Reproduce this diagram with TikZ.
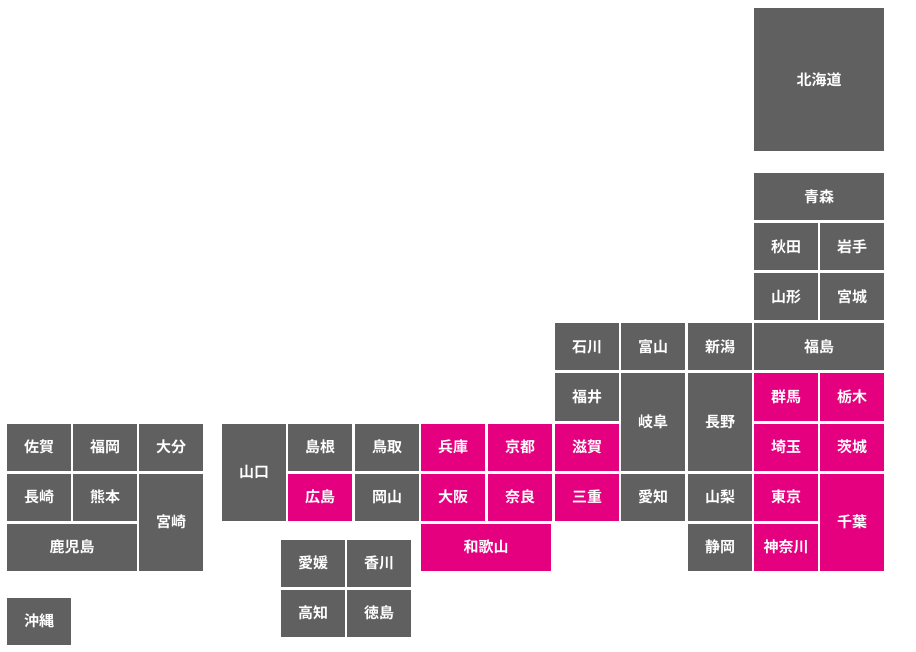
\documentclass[tikz,border=0pt]{standalone}
\usepackage{fontspec}
\newfontfamily\jpfont{Noto Sans CJK JP Bold}
\definecolor{tilegray}{HTML}{606060}
\definecolor{tilepink}{HTML}{E4007F}
\tikzset{
  tile/.style={fill=tilegray, text=white, inner sep=0pt, minimum width=64pt, minimum height=47pt, font=\jpfont\fontsize{15}{15}\selectfont},
  hit/.style={tile, fill=tilepink},
  wide/.style={minimum width=130pt},
  tall/.style={minimum height=97pt}
}
\begin{document}
\begin{tikzpicture}[x=1pt,y=-1pt]
    \useasboundingbox (0,0) rectangle (916,652);
    % Hokkaido / Tohoku
    \node[tile, wide, minimum height=143pt] (Hokkaido) at (819,80) {北海道};
    \node[tile, wide] (Aomori) at (819,197) {青森};
    \node[tile] (Akita) at (786,247) {秋田};
    \node[tile] (Iwate) at (852,247) {岩手};
    \node[tile] (Yamagata) at (786,297) {山形};
    \node[tile] (Miyagi) at (852,297) {宮城};
    \node[tile, wide] (Fukushima) at (819,347) {福島};
    % Chubu
    \node[tile] (Ishikawa) at (587,347) {石川};
    \node[tile] (Toyama) at (653,347) {富山};
    \node[tile] (Niigata) at (720,347) {新潟};
    \node[tile] (Fukui) at (587,397) {福井};
    \node[tile, tall] (Gifu) at (653,422) {岐阜};
    \node[tile, tall] (Nagano) at (720,422) {長野};
    \node[tile] (Aichi) at (653,497) {愛知};
    \node[tile] (Yamanashi) at (720,497) {山梨};
    \node[tile] (Shizuoka) at (720,547) {静岡};
    % Kanto
    \node[hit] (Gunma) at (786,397) {群馬};
    \node[hit] (Tochigi) at (852,397) {栃木};
    \node[hit] (Saitama) at (786,447) {埼玉};
    \node[hit] (Ibaraki) at (852,447) {茨城};
    \node[hit] (Tokyo) at (786,497) {東京};
    \node[hit, tall] (Chiba) at (852,522) {千葉};
    \node[hit] (Kanagawa) at (786,547) {神奈川};
    % Kinki
    \node[hit] (Hyogo) at (453,447) {兵庫};
    \node[hit] (Kyoto) at (520,447) {京都};
    \node[hit] (Shiga) at (587,447) {滋賀};
    \node[hit] (Osaka) at (453,497) {大阪};
    \node[hit] (Nara) at (520,497) {奈良};
    \node[hit] (Mie) at (587,497) {三重};
    \node[hit, wide] (Wakayama) at (486,547) {和歌山};
    % Chugoku
    \node[tile, tall] (Yamaguchi) at (254,472) {山口};
    \node[tile] (Shimane) at (320,447) {島根};
    \node[tile] (Tottori) at (387,447) {鳥取};
    \node[hit] (Hiroshima) at (320,497) {広島};
    \node[tile] (Okayama) at (387,497) {岡山};
    % Shikoku
    \node[tile] (Ehime) at (313,563) {愛媛};
    \node[tile] (Kagawa) at (379,563) {香川};
    \node[tile] (Kochi) at (313,613) {高知};
    \node[tile] (Tokushima) at (379,613) {徳島};
    % Kyushu / Okinawa
    \node[tile] (Saga) at (39,447) {佐賀};
    \node[tile] (Fukuoka) at (105,447) {福岡};
    \node[tile] (Oita) at (171,447) {大分};
    \node[tile] (Nagasaki) at (39,497) {長崎};
    \node[tile] (Kumamoto) at (105,497) {熊本};
    \node[tile, tall] (Miyazaki) at (171,522) {宮崎};
    \node[tile, wide] (Kagoshima) at (72,547) {鹿児島};
    \node[tile] (Okinawa) at (39,621) {沖縄};
\end{tikzpicture}
\end{document}
